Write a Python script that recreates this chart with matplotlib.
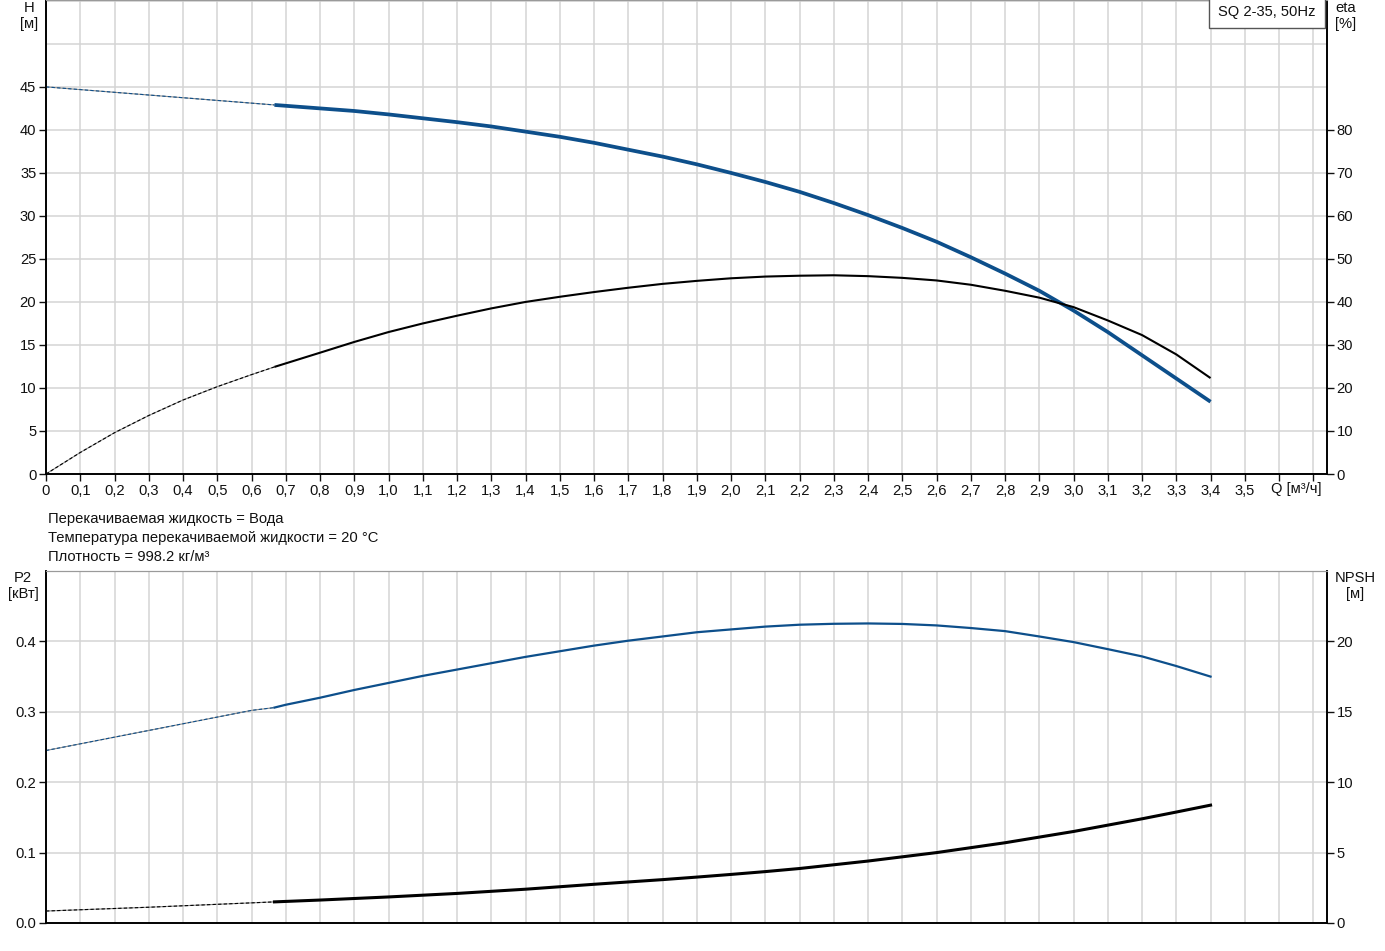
import matplotlib
matplotlib.use("Agg")
import matplotlib.pyplot as plt

plt.rcParams['font.family'] = ['Liberation Sans', 'DejaVu Sans']
plt.rcParams['font.size'] = 10.6

BLUE = '#0d4f8b'
GRID = '#d4d4d4'
TXT = '#111111'

# H(Q) curve
q_h_thin = [0.0, 0.667]
h_thin = [45.0, 42.9]
q_h = [0.667, 0.8, 0.9, 1.0, 1.1, 1.2, 1.3, 1.4, 1.5, 1.6, 1.7, 1.8, 1.9, 2.0, 2.1, 2.2,
       2.3, 2.4, 2.5, 2.6, 2.7, 2.8, 2.9, 3.0, 3.1, 3.2, 3.3, 3.4]
h = [42.9, 42.5, 42.2, 41.8, 41.35, 40.9, 40.4, 39.8, 39.2, 38.5, 37.7, 36.9, 36.0, 35.0,
     33.95, 32.8, 31.5, 30.1, 28.6, 27.0, 25.2, 23.3, 21.3, 19.0, 16.5, 13.8, 11.1, 8.4]

# eta(Q) curve
q_eta_thin = [0.0, 0.1, 0.2, 0.3, 0.4, 0.5, 0.6, 0.667]
eta_thin = [0.0, 5.0, 9.6, 13.6, 17.2, 20.3, 23.1, 24.9]
q_eta = [0.667, 0.8, 0.9, 1.0, 1.1, 1.2, 1.3, 1.4, 1.5, 1.6, 1.7, 1.8, 1.9, 2.0, 2.1, 2.2,
         2.3, 2.4, 2.5, 2.6, 2.7, 2.8, 2.9, 3.0, 3.1, 3.2, 3.3, 3.4]
eta = [24.9, 28.2, 30.7, 33.0, 35.0, 36.8, 38.5, 40.0, 41.2, 42.3, 43.3, 44.2, 44.9, 45.5,
       45.9, 46.1, 46.2, 46.0, 45.6, 45.0, 44.0, 42.6, 41.0, 38.8, 35.7, 32.3, 27.8, 22.3]

# P2(Q) curve
q_p2_thin = [0.0, 0.2, 0.4, 0.6, 0.667]
p2_thin = [0.245, 0.264, 0.283, 0.302, 0.306]
q_p2 = [0.667, 0.7, 0.8, 0.9, 1.0, 1.1, 1.2, 1.3, 1.4, 1.5, 1.6, 1.7, 1.8, 1.9, 2.0, 2.1,
        2.2, 2.3, 2.4, 2.5, 2.6, 2.7, 2.8, 2.9, 3.0, 3.1, 3.2, 3.3, 3.4]
p2 = [0.306, 0.310, 0.320, 0.331, 0.341, 0.351, 0.360, 0.369, 0.378, 0.386, 0.394, 0.401,
      0.407, 0.413, 0.417, 0.421, 0.4237, 0.425, 0.4255, 0.4248, 0.4227, 0.419, 0.4146,
      0.407, 0.399, 0.389, 0.3787, 0.365, 0.350]

# NPSH(Q) curve
q_npsh_thin = [0.0, 0.3, 0.667]
npsh_thin = [0.85, 1.12, 1.5]
q_npsh = [0.667, 0.8, 1.0, 1.2, 1.4, 1.6, 1.8, 1.9, 2.0, 2.1, 2.2, 2.4, 2.6, 2.8, 2.9, 3.0,
          3.1, 3.2, 3.3, 3.4]
npsh = [1.5, 1.63, 1.85, 2.1, 2.4, 2.75, 3.08, 3.26, 3.45, 3.65, 3.87, 4.4, 5.0, 5.7, 6.1,
        6.5, 6.95, 7.4, 7.88, 8.37]

x_ticks = [i / 10 for i in range(38)]
x_labels = [("0" if i == 0 else f"{i // 10},{i % 10}") if i <= 35 else "" for i in range(38)]

info_lines = ["Перекачиваемая жидкость = Вода",
              "Температура перекачиваемой жидкости = 20 °C",
              "Плотность = 998.2 кг/м³"]

W, H = 1385, 951
fig = plt.figure(figsize=(W / 100, H / 100), dpi=100)


def px(x, y):
    return x / W, 1 - y / H


def style(ax, ax2):
    ax.set_xlim(0, 3.74)
    for a in (ax, ax2):
        a.spines['left'].set_linewidth(1.2)
        a.spines['right'].set_linewidth(1.2)
        a.spines['bottom'].set_linewidth(1.2)
        a.spines['top'].set_color('#9a9a9a')
        a.tick_params(length=5, width=1, colors=TXT, labelsize=10.6, pad=2)
    for x in x_ticks[1:]:
        ax.axvline(x, color=GRID, lw=1.1, zorder=0)


def thin(ax, x, y, color):
    ax.plot(x, y, color='#8c8c8c', lw=0.8, zorder=2)
    ax.plot(x, y, color=color, lw=0.8, dashes=(3, 2), zorder=3)


# upper panel
ax1 = fig.add_axes([46 / W, 1 - 474 / H, (1327 - 46) / W, 474 / H])
ax1r = ax1.twinx()
style(ax1, ax1r)
ax1.set_ylim(0, 55.1)
ax1r.set_ylim(0, 110.2)
ax1.set_yticks(range(0, 50, 5))
ax1r.set_yticks(range(0, 90, 10))
for y in range(5, 60, 5):
    ax1.axhline(y, color=GRID, lw=1.1, zorder=0)
ax1.set_xticks(x_ticks)
ax1.set_xticklabels(x_labels)
ax1.text(3.65, -0.032, "Q [м³/ч]", transform=ax1.get_xaxis_transform(),
         ha='center', va='center', color=TXT)

thin(ax1, q_h_thin, h_thin, BLUE)
ax1.plot(q_h, h, color=BLUE, lw=2.7, zorder=4, solid_capstyle='butt')
thin(ax1r, q_eta_thin, eta_thin, 'black')
ax1r.plot(q_eta, eta, color='black', lw=1.5, zorder=4, solid_capstyle='butt')

# lower panel
ax2 = fig.add_axes([46 / W, 1 - 923 / H, (1327 - 46) / W, (923 - 571) / H])
ax2r = ax2.twinx()
style(ax2, ax2r)
ax2.set_ylim(0, 0.5)
ax2r.set_ylim(0, 25)
ax2.set_yticks([0.0, 0.1, 0.2, 0.3, 0.4])
ax2.set_yticklabels(["0.0", "0.1", "0.2", "0.3", "0.4"])
ax2r.set_yticks([0, 5, 10, 15, 20])
for y in [0.1, 0.2, 0.3, 0.4]:
    ax2.axhline(y, color=GRID, lw=1.1, zorder=0)
ax2.set_xticks([])
ax2r.set_xticks([])

thin(ax2, q_p2_thin, p2_thin, BLUE)
ax2.plot(q_p2, p2, color=BLUE, lw=1.6, zorder=4)
thin(ax2r, q_npsh_thin, npsh_thin, 'black')
ax2r.plot(q_npsh, npsh, color='black', lw=2.2, zorder=4)

# axis titles
fig.text(*px(29, 1), "H\n[м]", ha='center', va='top', color=TXT, linespacing=1.2)
fig.text(*px(1346, 1), "eta\n[%]", ha='center', va='top', color=TXT, linespacing=1.2)
fig.text(*px(23, 571), "P2\n[кВт]", ha='center', va='top', color=TXT, linespacing=1.2)
fig.text(*px(1355, 571), "NPSH\n[м]", ha='center', va='top', color=TXT, linespacing=1.2)

fig.text(*px(1316, 12), "SQ 2-35, 50Hz", ha='right', va='center', color=TXT,
         bbox=dict(boxstyle='square,pad=0.62', fc='white', ec='#555555', lw=1))

for i, line in enumerate(info_lines):
    fig.text(*px(48, 519 + 19 * i), line, ha='left', va='center', color=TXT)

fig.savefig("out.png", dpi=100)
